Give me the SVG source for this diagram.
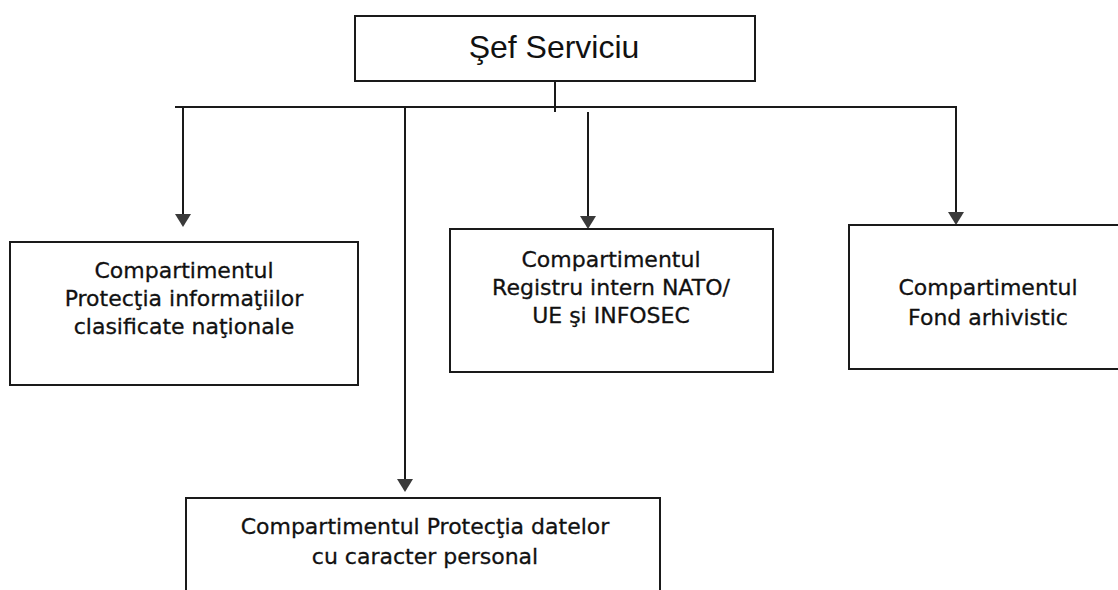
<svg xmlns="http://www.w3.org/2000/svg" width="1118" height="590" viewBox="0 0 1118 590">
<defs>
<style>
.box{fill:#fff;stroke:#1a1a1a;stroke-width:2}
.ln{fill:none;stroke:#1a1a1a;stroke-width:2}
.ah{fill:#3a3a3a}
.t{font-family:"DejaVu Sans","Noto Sans",sans-serif;font-size:22px;fill:#111;stroke:#111;stroke-width:0.3;text-anchor:middle}
.h{font-family:"Liberation Sans",Arial,sans-serif;font-size:32px;fill:#111;text-anchor:middle}
</style>
</defs>
<rect width="1118" height="590" fill="#fff"/>
<g id="connectors">
<line class="ln" x1="555" y1="81" x2="555" y2="112"/>
<polyline class="ln" points="175,107 956,107 956,212"/>
<line class="ln" x1="183" y1="107" x2="183" y2="214"/>
<line class="ln" x1="405" y1="107" x2="405" y2="480"/>
<line class="ln" x1="588" y1="112" x2="588" y2="216"/>
<path class="ah" d="M175,214 L191,214 L183,227 Z"/>
<path class="ah" d="M397,479 L413,479 L405,492 Z"/>
<path class="ah" d="M580,216 L596,216 L588,229 Z"/>
<path class="ah" d="M948,212 L964,212 L956,225 Z"/>
</g>
<g id="sef">
<rect class="box" x="355" y="16" width="400" height="65"/>
<text class="h" x="554" y="58">Şef Serviciu</text>
</g>
<g id="protectia-info">
<rect class="box" x="10" y="242" width="348" height="143"/>
<text class="t" x="184" y="278">Compartimentul</text>
<text class="t" x="184" y="306">Protecţia informaţiilor</text>
<text class="t" x="184" y="334">clasificate naţionale</text>
</g>
<g id="registru">
<rect class="box" x="450" y="229" width="323" height="143"/>
<text class="t" x="611" y="267">Compartimentul</text>
<text class="t" x="611" y="295">Registru intern NATO/</text>
<text class="t" x="611" y="323">UE şi INFOSEC</text>
</g>
<g id="fond">
<rect class="box" x="849" y="225" width="290" height="144"/>
<text class="t" x="988" y="295">Compartimentul</text>
<text class="t" x="988" y="325">Fond arhivistic</text>
</g>
<g id="date-personale">
<rect class="box" x="186" y="498" width="474" height="110"/>
<text class="t" x="425" y="534">Compartimentul Protecţia datelor</text>
<text class="t" x="425" y="564">cu caracter personal</text>
</g>
</svg>
